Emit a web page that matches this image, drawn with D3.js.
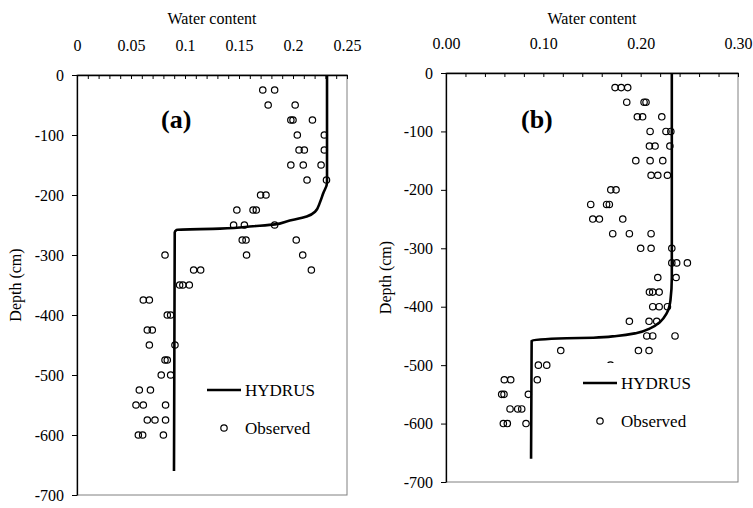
<!DOCTYPE html>
<html>
<head>
<meta charset="utf-8">
<title>Water content profiles</title>
<script src="https://cdn.jsdelivr.net/npm/d3@7"></script>
<style>
  body { margin: 0; background: #fff; }
  svg { display: block; }
  svg text { font-family: "Liberation Serif", "Times New Roman", serif; fill: #000; }
  .tick text { font-size: 16px; }
</style>
</head>
<body>
<svg id="chart" width="753" height="508"></svg>
<script>
// depth ticks shared by both panels
var depthTicks = [0, -100, -200, -300, -400, -500, -600, -700];
var thetaTicksA = [0, 0.05, 0.1, 0.15, 0.2, 0.25];
var thetaTicksB = [0, 0.1, 0.2, 0.3];

// HYDRUS simulated profiles [theta, depth]
var hydrusA = [[0.2315, 0], [0.2315, -180], [0.228, -197], [0.225, -212], [0.2204, -228],
  [0.2127, -236], [0.194, -244], [0.1833, -249], [0.163, -252], [0.1324, -256],
  [0.0923, -258], [0.0905, -262], [0.0898, -660]];
var hydrusB = [[0.232, 0], [0.232, -350], [0.2306, -389], [0.2268, -411], [0.2199, -426],
  [0.2097, -437], [0.196, -445], [0.1754, -450], [0.1514, -453], [0.124, -454],
  [0.088, -458], [0.0874, -660]];

// observed water content [theta, depth]
var observedA = [
  [0.172, -25], [0.183, -25], [0.177, -50], [0.202, -50],
  [0.198, -75], [0.200, -75], [0.218, -75], [0.204, -100], [0.229, -100],
  [0.2056, -125], [0.2105, -125], [0.229, -125], [0.198, -150], [0.2095, -150], [0.226, -150],
  [0.213, -175], [0.231, -175], [0.170, -200], [0.175, -200],
  [0.148, -225], [0.163, -225], [0.166, -225], [0.145, -250], [0.155, -250], [0.183, -250],
  [0.153, -275], [0.1565, -275], [0.203, -275], [0.0815, -300], [0.157, -300], [0.209, -300],
  [0.108, -325], [0.1145, -325], [0.217, -325], [0.095, -350], [0.098, -350], [0.104, -350],
  [0.0614, -375], [0.067, -375], [0.0836, -400], [0.0867, -400], [0.0651, -425], [0.0697, -425],
  [0.067, -450], [0.0907, -450], [0.0815, -475], [0.0836, -475], [0.078, -500], [0.0867, -500],
  [0.0577, -525], [0.068, -525], [0.0546, -550], [0.0614, -550], [0.082, -550],
  [0.0651, -575], [0.0722, -575], [0.082, -575], [0.0568, -600], [0.0608, -600], [0.080, -600]
];
var observedB = [
  [0.1737, -25], [0.180, -25], [0.1867, -25], [0.1857, -50], [0.2035, -50], [0.2055, -50],
  [0.1966, -75], [0.202, -75], [0.2217, -75], [0.2097, -100], [0.226, -100], [0.231, -100],
  [0.209, -125], [0.2148, -125], [0.230, -125], [0.195, -150], [0.2097, -150], [0.2227, -150],
  [0.2107, -175], [0.2176, -175], [0.2275, -175], [0.1693, -200], [0.1747, -200],
  [0.1487, -225], [0.165, -225], [0.1678, -225], [0.1508, -250], [0.1576, -250], [0.1816, -250],
  [0.1713, -275], [0.1884, -275], [0.2107, -275], [0.200, -300], [0.2107, -300], [0.232, -300],
  [0.232, -325], [0.237, -325], [0.248, -325], [0.2176, -350], [0.2364, -350],
  [0.209, -375], [0.2124, -375], [0.219, -375], [0.2124, -400], [0.219, -400], [0.2275, -400],
  [0.1884, -425], [0.2086, -425], [0.2165, -425], [0.2063, -450], [0.2124, -450], [0.2353, -450],
  [0.1179, -475], [0.1977, -475], [0.2086, -475], [0.0949, -500], [0.1035, -500], [0.169, -500],
  [0.0599, -525], [0.0665, -525], [0.0938, -525], [0.0572, -550], [0.0596, -550], [0.0846, -550],
  [0.0658, -575], [0.0737, -575], [0.0778, -575], [0.0589, -600], [0.063, -600], [0.0822, -600]
];

var svg = d3.select("#chart");

function drawPanel(p) {
  var x = d3.scaleLinear().domain([0, p.xmax]).range([p.left, p.right]);
  var y = d3.scaleLinear().domain([0, -700]).range([p.top, p.bottom]);
  var g = svg.append("g");

  // grey frame on the right and bottom
  g.append("rect")
      .attr("x", p.left).attr("y", p.top)
      .attr("width", p.right - p.left).attr("height", p.bottom - p.top)
      .attr("fill", "none").attr("stroke", "#808080").attr("stroke-width", 1);

  // minor ticks on the top axis (pointing inside)
  g.append("g")
      .attr("transform", "translate(0," + p.top + ")")
      .call(d3.axisTop(x).tickValues(d3.range(0, p.xmax + 1e-9, p.minor)).tickSize(-4).tickFormat(""))
      .call(function(a) { a.select(".domain").remove(); })
      .selectAll("line").attr("stroke", "#000");

  // top axis with labels
  var top = g.append("g")
      .attr("transform", "translate(0," + p.top + ")")
      .call(d3.axisTop(x).tickValues(p.ticks).tickSize(0).tickPadding(24).tickFormat(p.fmt));
  top.attr("font-family", null);
  top.select(".domain").attr("stroke", "#000").attr("stroke-width", 1.3);

  // depth axis
  var left = g.append("g")
      .attr("transform", "translate(" + p.left + ",0)")
      .call(d3.axisLeft(y).tickValues(depthTicks).tickSize(5).tickPadding(8).tickSizeOuter(0)
        .tickFormat(function(d) { return String(d); }));
  left.attr("font-family", null);
  left.select(".domain").attr("stroke", "#000").attr("stroke-width", 1.3);
  left.selectAll(".tick line").attr("stroke", "#000");

  // axis titles
  g.append("text")
      .attr("x", (p.left + p.right) / 2).attr("y", 24)
      .attr("text-anchor", "middle").attr("font-size", 16)
      .text("Water content");
  g.append("text")
      .attr("transform", "translate(" + p.ylabX + "," + (p.top + p.bottom) / 2 + ") rotate(-90)")
      .attr("text-anchor", "middle").attr("dy", "0.35em").attr("font-size", 16)
      .text("Depth (cm)");

  // observed points
  g.append("g").selectAll("circle")
      .data(p.obs)
    .enter().append("circle")
      .attr("cx", function(d) { return x(d[0]); })
      .attr("cy", function(d) { return y(d[1]); })
      .attr("r", 3.2)
      .attr("fill", "none").attr("stroke", "#000").attr("stroke-width", 1.2);

  // hydrus curve
  var line = d3.line()
      .x(function(d) { return x(d[0]); })
      .y(function(d) { return y(d[1]); })
      .curve(d3.curveMonotoneY);
  g.append("path")
      .datum(p.sim)
      .attr("d", line)
      .attr("fill", "none").attr("stroke", "#000").attr("stroke-width", 2.6);

  // panel label
  g.append("text")
      .attr("x", p.labX).attr("y", 128)
      .attr("font-size", 26).attr("font-weight", "bold")
      .text(p.label);

  // legend
  var lg = g.append("g").attr("transform", "translate(" + p.legX + "," + p.legY + ")");
  lg.append("rect").attr("x", -8).attr("y", -20).attr("width", 140).attr("height", 78).attr("fill", "#fff");
  lg.append("line").attr("x1", 0).attr("x2", 34).attr("y1", 0).attr("y2", 0)
      .attr("stroke", "#000").attr("stroke-width", 2.6);
  lg.append("text").attr("x", 38).attr("y", 0).attr("dy", "0.35em").attr("font-size", 17).text("HYDRUS");
  lg.append("circle").attr("cx", 17).attr("cy", 38).attr("r", 3.2)
      .attr("fill", "none").attr("stroke", "#000").attr("stroke-width", 1.2);
  lg.append("text").attr("x", 38).attr("y", 38).attr("dy", "0.35em").attr("font-size", 17).text("Observed");
}

drawPanel({ left: 77, right: 347, top: 75, bottom: 495, xmax: 0.25, minor: 0.01,
  ticks: thetaTicksA, fmt: function(d) { return String(+d.toFixed(2)); },
  obs: observedA, sim: hydrusA, label: "(a)", labX: 161, ylabX: 15, legX: 207, legY: 390 });

drawPanel({ left: 446, right: 738, top: 73, bottom: 482, xmax: 0.3, minor: 0.02,
  ticks: thetaTicksB, fmt: d3.format(".2f"),
  obs: observedB, sim: hydrusB, label: "(b)", labX: 521, ylabX: 385, legX: 583, legY: 383 });
</script>
</body>
</html>
